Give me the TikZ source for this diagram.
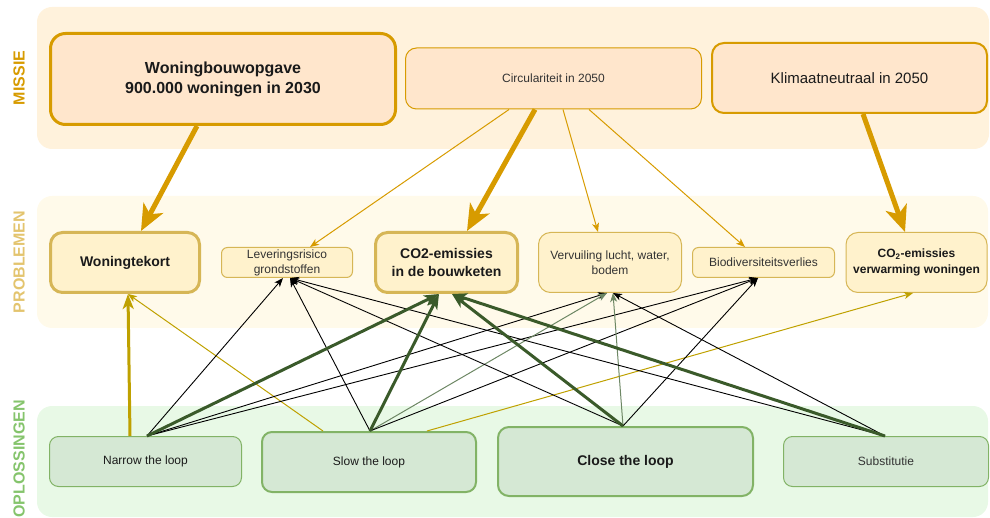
\documentclass[tikz,border=0pt]{standalone}
\usepackage{fontspec}
\setmainfont{Liberation Sans}
\usetikzlibrary{arrows.meta}
\definecolor{bandM}{HTML}{FFF2DC}
\definecolor{bandP}{HTML}{FFFAEA}
\definecolor{bandO}{HTML}{E8F9E6}
\definecolor{orangeS}{HTML}{D79B00}
\definecolor{orangeF}{HTML}{FFE6CC}
\definecolor{yelS}{HTML}{D6B656}
\definecolor{yelF}{HTML}{FFF2CC}
\definecolor{grnS}{HTML}{82B366}
\definecolor{grnF}{HTML}{D5E8D4}
\definecolor{lblM}{HTML}{D79B00}
\definecolor{lblP}{HTML}{E3C46E}
\definecolor{lblO}{HTML}{85C46C}
\definecolor{olive}{HTML}{BFA100}
\definecolor{dkgreen}{HTML}{3A5A2A}
\definecolor{grgreen}{HTML}{6D8764}
\definecolor{txtd}{HTML}{1A1A1A}
\definecolor{txtg}{HTML}{333333}
\begin{document}
\begin{tikzpicture}[x=1pt,y=-1pt,
  band/.style={rounded corners=15pt, draw=none},
  lbl/.style={rotate=90, font=\fontsize{16}{19}\selectfont\bfseries, inner sep=0pt},
  mbox/.style={draw=orangeS, fill=orangeF, align=center, inner sep=0pt, text=txtd},
  pbox/.style={draw=yelS, fill=yelF, align=center, inner sep=0pt, text=txtd},
  sbox/.style={draw=grnS, fill=grnF, align=center, inner sep=0pt, text=txtd},
  fbig/.style={font=\fontsize{16}{20}\selectfont\bfseries},
  fb14/.style={font=\fontsize{14}{18}\selectfont\bfseries},
  fb12/.style={font=\fontsize{12}{16}\selectfont\bfseries},
  f12/.style={font=\fontsize{12}{15}\selectfont, text=txtg},
  f15/.style={font=\fontsize{15}{18}\selectfont},
  mthick/.style={draw=orangeS, line width=5pt, -{Stealth[length=26pt,width=22pt,inset=7pt]}},
  mthin/.style={draw=orangeS, line width=1pt, -{Stealth[length=9pt,width=7pt,inset=2.5pt]}},
  othick/.style={draw=olive, line width=3pt, -{Stealth[length=15pt,width=11pt,inset=4pt]}},
  othin/.style={draw=olive, line width=1pt, -{Stealth[length=9pt,width=7pt,inset=2.5pt]}},
  gthick/.style={draw=dkgreen, line width=3pt, -{Stealth[length=15pt,width=11pt,inset=4pt]}},
  gthin/.style={draw=grgreen, line width=1pt, -{Stealth[length=9pt,width=7pt,inset=2.5pt]}},
  kthin/.style={draw=black, line width=0.9pt, -{Stealth[length=9pt,width=7pt,inset=2.5pt]}}
]
\useasboundingbox (0,0) rectangle (990,518);
% bands
\fill[band, bandM] (37,7) rectangle (989,149);
\fill[band, bandP] (37,196) rectangle (988,328);
\fill[band, bandO] (37,406) rectangle (988,517);
% band labels
\node[lbl, text=lblM] (lm) at (19,78) {MISSIE};
\node[lbl, text=lblP] (lp) at (19,262) {PROBLEMEN};
\node[lbl, text=lblO] (lo) at (19,459) {OPLOSSINGEN};
% mission nodes
\node[mbox, fbig, line width=3pt, rounded corners=15pt, minimum width=345pt, minimum height=91pt] (wbo) at (223,79) {Woningbouwopgave\\900.000 woningen in 2030};
\node[mbox, f12, line width=1pt, rounded corners=11pt, minimum width=296pt, minimum height=61pt] (circ) at (553.5,78.5) {Circulariteit in 2050};
\node[mbox, f15, line width=2pt, rounded corners=12pt, minimum width=275pt, minimum height=70pt] (klim) at (849.5,78) {Klimaatneutraal in 2050};
% problem nodes
\node[pbox, fb14, line width=3pt, rounded corners=12pt, minimum width=149pt, minimum height=60pt] (wt) at (125,262.5) {Woningtekort};
\node[pbox, f12, line width=1pt, rounded corners=6pt, minimum width=131pt, minimum height=30pt] (lever) at (287,262.5) {Leveringsrisico\\grondstoffen};
\node[pbox, fb14, line width=3pt, rounded corners=12pt, minimum width=142pt, minimum height=60pt] (co2b) at (446.5,262.5) {CO2-emissies\\in de bouwketen};
\node[pbox, f12, line width=1pt, rounded corners=12pt, minimum width=143pt, minimum height=60pt] (verv) at (610,262.5) {Vervuiling lucht, water,\\bodem};
\node[pbox, f12, line width=1pt, rounded corners=6pt, minimum width=142pt, minimum height=30pt] (biod) at (763.5,262.5) {Biodiversiteitsverlies};
\node[pbox, fb12, line width=1pt, rounded corners=12pt, minimum width=141pt, minimum height=60pt] (co2v) at (916.5,262.5) {CO\textsubscript{2}-emissies\\verwarming woningen};
% solution nodes
\node[sbox, f12, text=txtd, line width=1pt, rounded corners=9pt, minimum width=192pt, minimum height=50pt] (narrow) at (145.5,461.5) {Narrow the loop};
\node[sbox, f12, text=txtd, line width=2pt, rounded corners=10pt, minimum width=214pt, minimum height=60pt] (slow) at (369,462) {Slow the loop};
\node[sbox, fb14, line width=2pt, rounded corners=11pt, minimum width=255pt, minimum height=69pt] (close) at (625.5,461.5) {Close the loop};
\node[sbox, f12, line width=1pt, rounded corners=9pt, minimum width=205pt, minimum height=50pt] (subst) at (886,461.5) {Substitutie};
% mission -> problem
\draw[mthin] ([xshift=-44.5pt]circ.south) -- ([xshift=23pt]lever.north);
\draw[mthin] ([xshift=9.5pt]circ.south) -- ([xshift=-12pt]verv.north);
\draw[mthin] ([xshift=35.5pt]circ.south) -- ([xshift=-18.5pt]biod.north);
\draw[mthick] ([xshift=-26pt]wbo.south) -- ([xshift=16pt]wt.north);
\draw[mthick] ([xshift=-18.5pt]circ.south) -- ([xshift=20.5pt]co2b.north);
\draw[mthick] ([xshift=13.5pt]klim.south) -- ([xshift=-11.5pt]co2v.north);
% solutions -> problems (thin)
\draw[othin] ([xshift=-46pt]slow.north) -- ([xshift=3pt]wt.south);
\draw[othin] ([xshift=58pt]slow.north) -- ([xshift=-3.5pt]co2v.south);
\draw[kthin] ([xshift=1.5pt]narrow.north) -- ([xshift=-4pt]lever.south);
\draw[kthin] ([xshift=1.5pt]narrow.north) -- ([xshift=-3pt]verv.south);
\draw[kthin] ([xshift=1.5pt]narrow.north) -- ([xshift=-5.5pt]biod.south);
\draw[kthin] ([xshift=1pt]slow.north) -- ([xshift=3pt]lever.south);
\draw[gthin] ([xshift=1pt]slow.north) -- ([xshift=-3pt]verv.south);
\draw[kthin] ([xshift=1pt]slow.north) -- ([xshift=-5.5pt]biod.south);
\draw[kthin] ([xshift=-2.5pt]close.north) -- ([xshift=3pt]lever.south);
\draw[gthin] ([xshift=-2.5pt]close.north) -- ([xshift=3pt]verv.south);
\draw[kthin] ([xshift=-2.5pt]close.north) -- ([xshift=-5.5pt]biod.south);
\draw[kthin] ([xshift=-1pt]subst.north) -- ([xshift=3pt]lever.south);
\draw[kthin] ([xshift=-1pt]subst.north) -- ([xshift=3pt]verv.south);
% solutions -> problems (thick)
\draw[othick] ([xshift=-15.5pt]narrow.north) -- ([xshift=3pt]wt.south);
\draw[gthick] ([xshift=1.5pt]narrow.north) -- ([xshift=-7.5pt]co2b.south);
\draw[gthick] ([xshift=1pt]slow.north) -- ([xshift=-7.5pt]co2b.south);
\draw[gthick] ([xshift=-2.5pt]close.north) -- ([xshift=5.5pt]co2b.south);
\draw[gthick] ([xshift=-1pt]subst.north) -- ([xshift=5.5pt]co2b.south);
\end{tikzpicture}
\end{document}
